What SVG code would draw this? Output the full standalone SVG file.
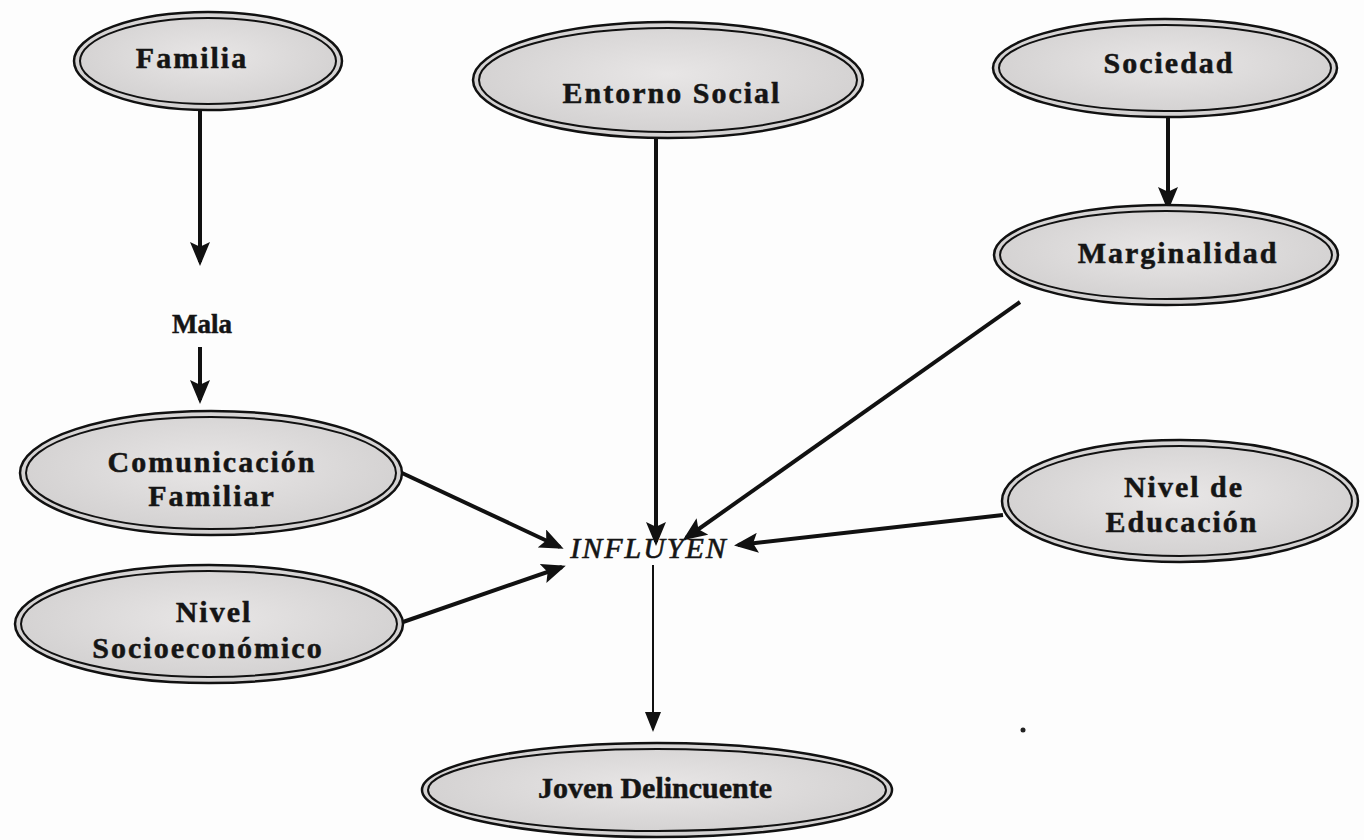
<svg xmlns="http://www.w3.org/2000/svg" width="1364" height="840" viewBox="0 0 1364 840">
<defs>
<radialGradient id="g" cx="50%" cy="45%" r="60%">
<stop offset="0" stop-color="#e8e6e6"/>
<stop offset="1" stop-color="#d0cece"/>
</radialGradient>
<marker id="ah" markerWidth="6" markerHeight="5" refX="5" refY="2.5" orient="auto" markerUnits="strokeWidth">
<path d="M0,0 L6,2.5 L0,5 L1.2,2.5 Z" fill="#111"/>
</marker>
<marker id="ahs" markerWidth="10" markerHeight="10" refX="9" refY="5" orient="auto" markerUnits="strokeWidth">
<path d="M0,1 L10,5 L0,9 Z" fill="#111"/>
</marker>
</defs>
<style>
.o{fill:url(#g);stroke:#111;stroke-width:2.5}
.i{fill:none;stroke:#111;stroke-width:2}
.t{font-family:"Liberation Serif","Times New Roman",serif;font-weight:bold;font-size:30px;letter-spacing:2px;fill:#151515;stroke:#151515;stroke-width:0.5;text-anchor:middle}
.c{stroke:#111;stroke-width:4;fill:none;marker-end:url(#ah)}
.thin{stroke:#111;stroke-width:2;fill:none;marker-end:url(#ahs)}
.it{font-family:"Liberation Serif","Times New Roman",serif;font-style:italic;font-size:30px;letter-spacing:2px;fill:#151515;stroke:#151515;stroke-width:0.6;text-anchor:middle}
</style>
<rect width="1364" height="840" fill="#fdfdfd"/>
<g id="connectors">
<line class="c" x1="200" y1="110" x2="200" y2="262"/>
<line class="c" x1="200" y1="347" x2="200" y2="400"/>
<line class="c" x1="656" y1="138" x2="656" y2="542"/>
<line class="c" x1="1168" y1="116" x2="1168" y2="207"/>
<line class="c" x1="1020" y1="302" x2="686" y2="538"/>
<line class="c" x1="1003" y1="515" x2="738" y2="545"/>
<line class="c" x1="402" y1="473" x2="560" y2="547"/>
<line class="c" x1="403" y1="622" x2="562" y2="567"/>
<line class="thin" x1="653" y1="565" x2="653" y2="730"/>
</g>
<g id="familia">
<ellipse class="o" cx="208" cy="61" rx="134" ry="49"/>
<ellipse class="i" cx="208" cy="61" rx="128" ry="43"/>
<text class="t" x="192" y="68">Familia</text>
</g>
<g id="mala">
<text class="t" x="202" y="333" style="font-size:27px;letter-spacing:0">Mala</text>
</g>
<g id="comunicacion">
<ellipse class="o" cx="211" cy="473" rx="191" ry="62"/>
<ellipse class="i" cx="211" cy="473" rx="185" ry="56"/>
<text class="t" x="212" y="472">Comunicación</text>
<text class="t" x="212" y="506">Familiar</text>
</g>
<g id="socioeconomico">
<ellipse class="o" cx="209" cy="624" rx="194" ry="59"/>
<ellipse class="i" cx="209" cy="624" rx="188" ry="53"/>
<text class="t" x="214" y="622">Nivel</text>
<text class="t" x="208" y="658">Socioeconómico</text>
</g>
<g id="entorno">
<ellipse class="o" cx="668" cy="80" rx="195" ry="58"/>
<ellipse class="i" cx="668" cy="80" rx="189" ry="52"/>
<text class="t" x="672" y="103">Entorno Social</text>
</g>
<g id="sociedad">
<ellipse class="o" cx="1165" cy="68" rx="172" ry="49"/>
<ellipse class="i" cx="1165" cy="68" rx="166" ry="43"/>
<text class="t" x="1169" y="73">Sociedad</text>
</g>
<g id="marginalidad">
<ellipse class="o" cx="1166" cy="255" rx="172" ry="50"/>
<ellipse class="i" cx="1166" cy="255" rx="166" ry="44"/>
<text class="t" x="1178" y="263">Marginalidad</text>
</g>
<g id="educacion">
<ellipse class="o" cx="1180" cy="501" rx="178" ry="61"/>
<ellipse class="i" cx="1180" cy="501" rx="172" ry="55"/>
<text class="t" x="1184" y="497">Nivel de</text>
<text class="t" x="1182" y="532">Educación</text>
</g>
<g id="influyen">
<text class="it" x="649" y="558">INFLUYEN</text>
</g>
<g id="joven">
<ellipse class="o" cx="657" cy="790" rx="235" ry="47"/>
<ellipse class="i" cx="657" cy="790" rx="229" ry="41"/>
<text class="t" x="655" y="798" style="letter-spacing:0">Joven Delincuente</text>
</g>
<circle cx="1023" cy="730" r="2.5" fill="#222"/>
</svg>
